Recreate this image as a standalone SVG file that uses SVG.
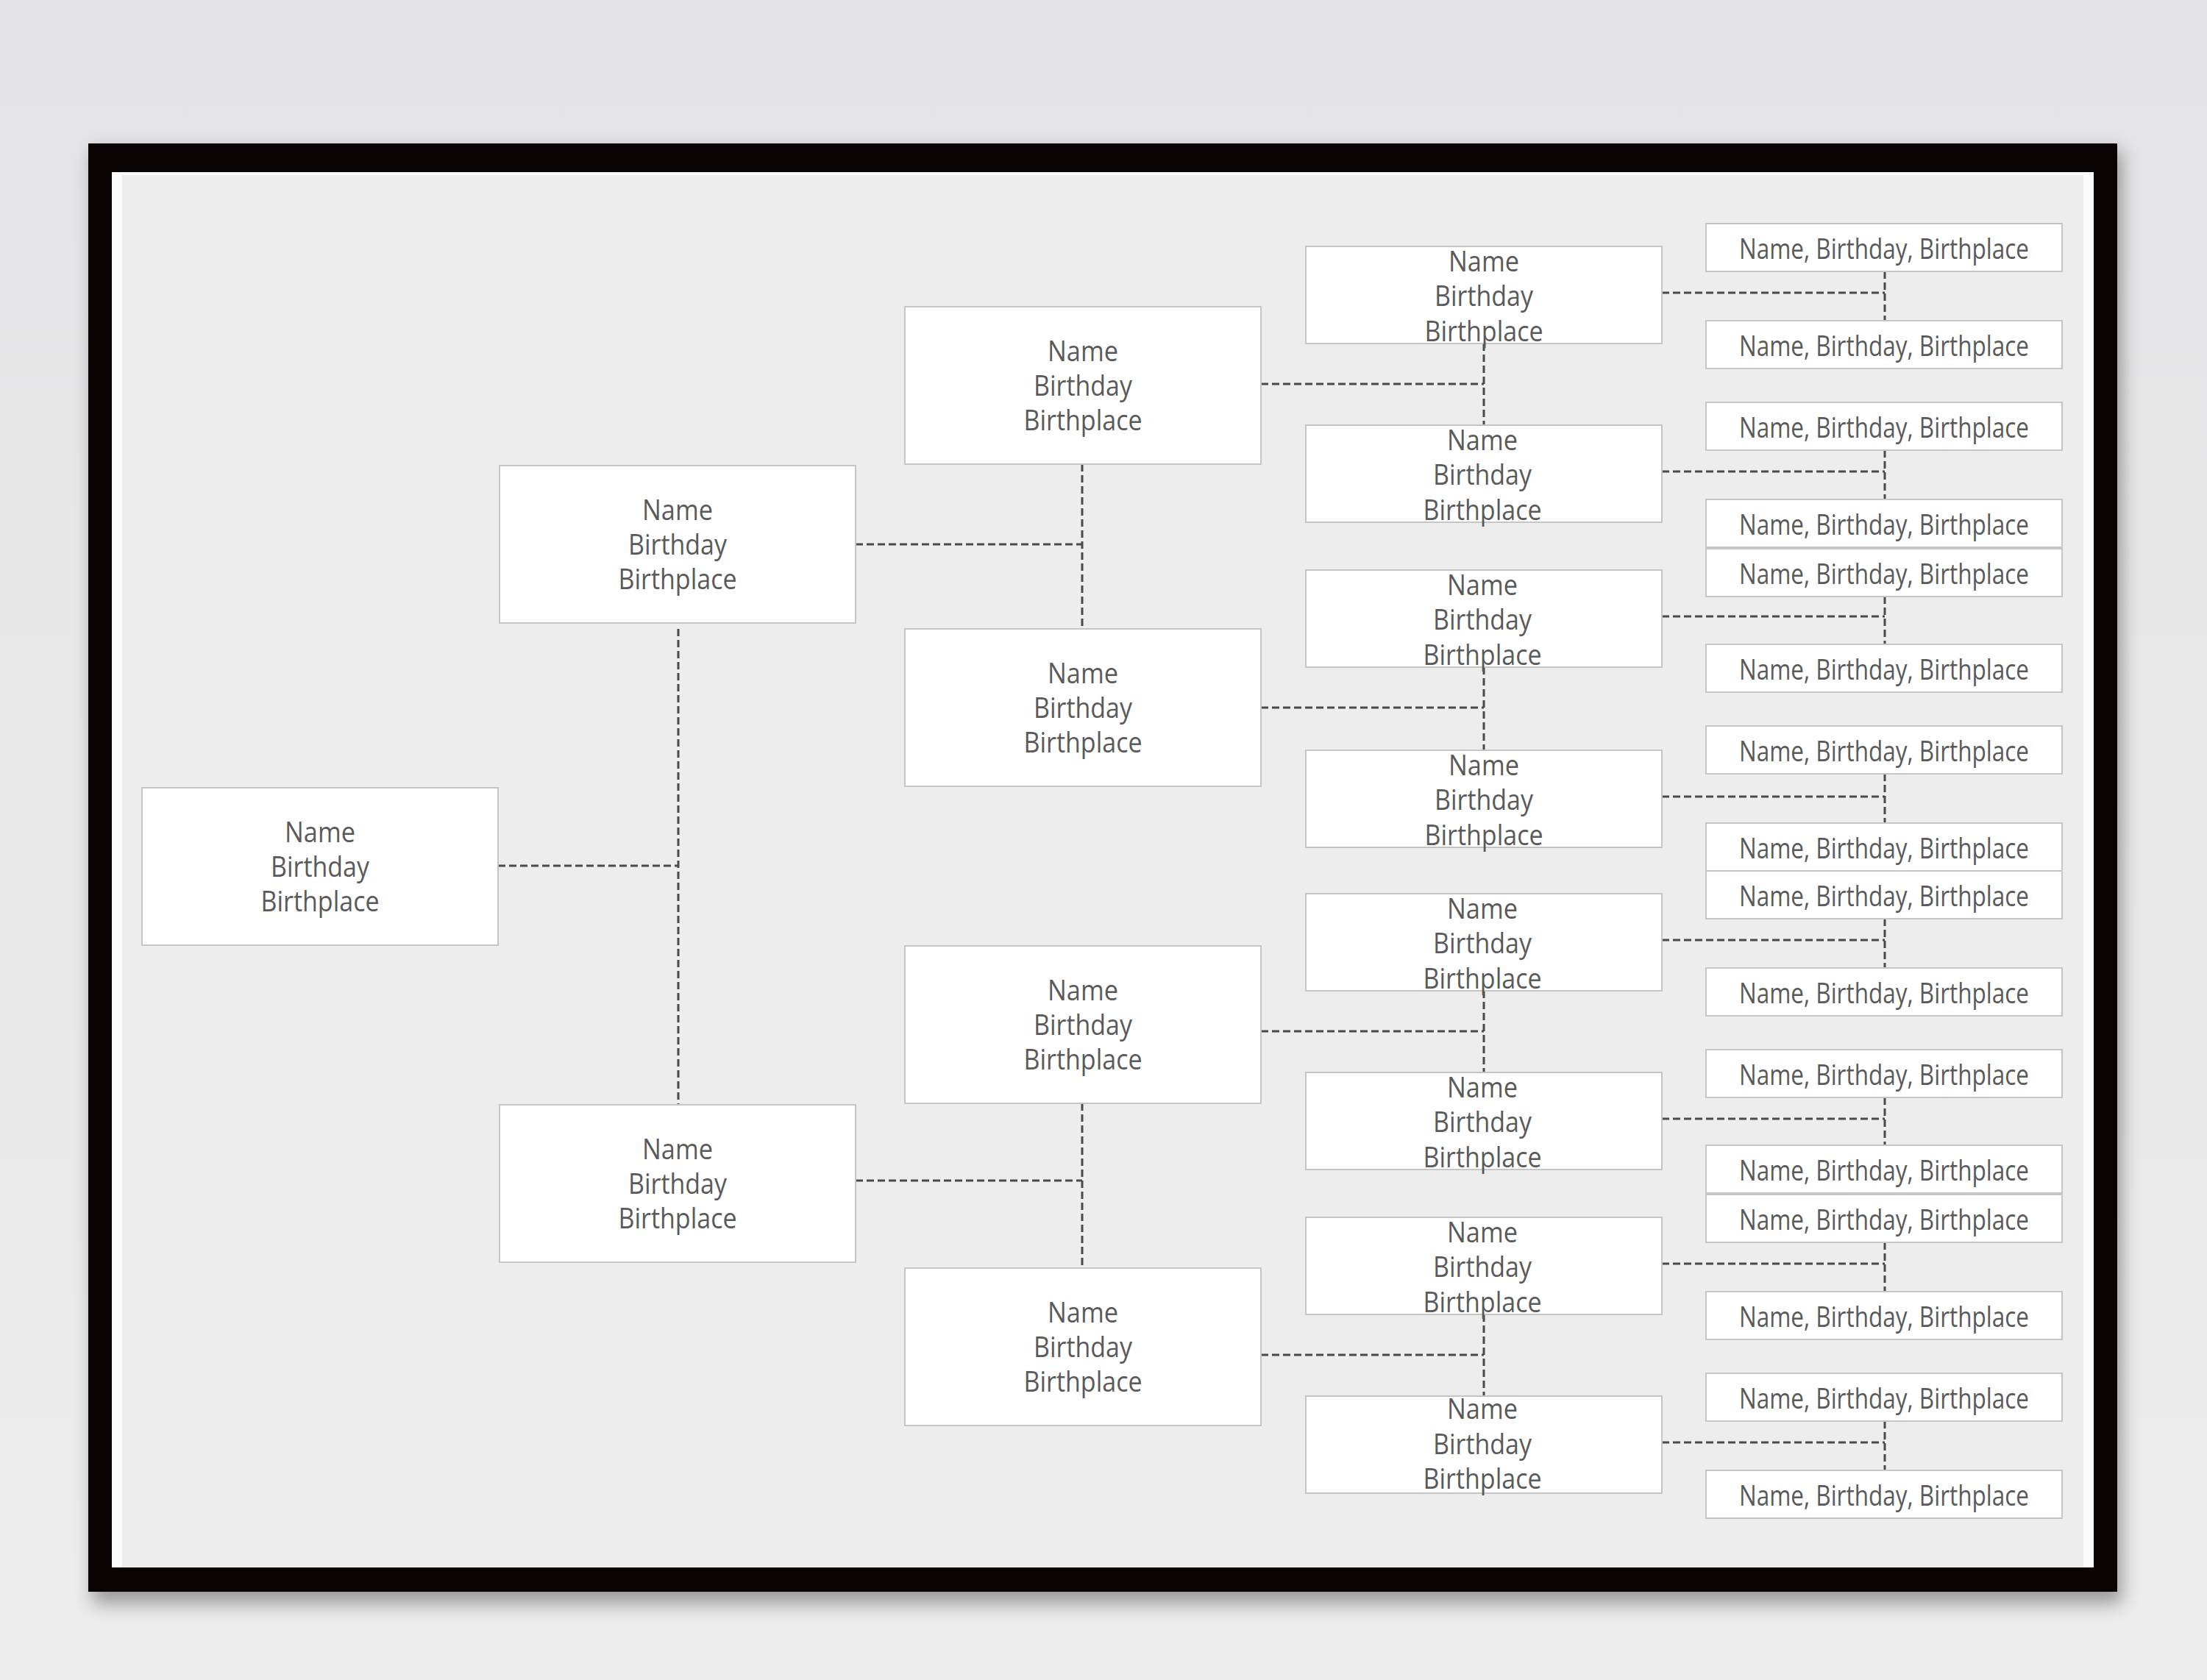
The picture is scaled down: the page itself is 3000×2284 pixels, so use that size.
<svg xmlns="http://www.w3.org/2000/svg" width="3000" height="2284" viewBox="0 0 3000 2284">
<style>
.bx{fill:#fff;stroke:#c6c6c6;stroke-width:2}
.t{font-family:"Open Sans","Noto Sans",sans-serif;font-size:38px;fill:#5a5a5a;text-anchor:middle;dominant-baseline:central}
.c{fill:none;stroke:#4a4a4a;stroke-width:3;stroke-dasharray:10 5}
</style>
<defs>
<linearGradient id="bg" x1="0" y1="0" x2="0" y2="1"><stop offset="0" stop-color="#e4e4e6"/><stop offset="1" stop-color="#ececec"/></linearGradient>
<filter id="sh" x="-5%" y="-5%" width="110%" height="115%"><feGaussianBlur stdDeviation="12"/></filter>
</defs>
<rect width="3000" height="2284" fill="url(#bg)"/>
<rect x="126" y="205" width="2758" height="1975" fill="#000" opacity="0.35" filter="url(#sh)"/>
<rect x="120" y="195" width="2758" height="1969" fill="#0a0303"/>
<rect x="152" y="234" width="2694" height="1897" fill="#fafafa"/>
<rect x="166" y="238" width="2666" height="1893" fill="#ededed"/>
<g id="connectors" class="c">
<path d="M677 1177H922M922 855V1502"/>
<path d="M1163 740H1471M1471 631V855M1163 1605H1471M1471 1500V1724"/>
<path d="M1714 522H2017M2017 467V578M1714 962H2017M2017 907V1020M1714 1402H2017M2017 1347V1458M1714 1842H2017M2017 1787V1898"/>
<path d="M2259 398H2562M2562 369V436M2259 641H2562M2562 612V679M2259 838H2562M2562 811V876M2259 1083H2562M2562 1052V1119M2259 1278H2562M2562 1249V1316M2259 1521H2562M2562 1492V1557M2259 1718H2562M2562 1689V1756M2259 1961H2562M2562 1932V1999"/>
</g>
<g id="n0"><rect class="bx" x="193" y="1071" width="484" height="214"/><text class="t" x="435" y="1130" textLength="96" lengthAdjust="spacingAndGlyphs">Name</text><text class="t" x="435" y="1177" textLength="134" lengthAdjust="spacingAndGlyphs">Birthday</text><text class="t" x="435" y="1224" textLength="161" lengthAdjust="spacingAndGlyphs">Birthplace</text></g>
<g id="n1"><rect class="bx" x="679" y="633" width="484" height="214"/><text class="t" x="921" y="692" textLength="96" lengthAdjust="spacingAndGlyphs">Name</text><text class="t" x="921" y="739" textLength="134" lengthAdjust="spacingAndGlyphs">Birthday</text><text class="t" x="921" y="786" textLength="161" lengthAdjust="spacingAndGlyphs">Birthplace</text></g>
<g id="n2"><rect class="bx" x="679" y="1502" width="484" height="214"/><text class="t" x="921" y="1561" textLength="96" lengthAdjust="spacingAndGlyphs">Name</text><text class="t" x="921" y="1608" textLength="134" lengthAdjust="spacingAndGlyphs">Birthday</text><text class="t" x="921" y="1655" textLength="161" lengthAdjust="spacingAndGlyphs">Birthplace</text></g>
<g id="n3"><rect class="bx" x="1230" y="417" width="484" height="214"/><text class="t" x="1472" y="476" textLength="96" lengthAdjust="spacingAndGlyphs">Name</text><text class="t" x="1472" y="523" textLength="134" lengthAdjust="spacingAndGlyphs">Birthday</text><text class="t" x="1472" y="570" textLength="161" lengthAdjust="spacingAndGlyphs">Birthplace</text></g>
<g id="n4"><rect class="bx" x="1230" y="855" width="484" height="214"/><text class="t" x="1472" y="914" textLength="96" lengthAdjust="spacingAndGlyphs">Name</text><text class="t" x="1472" y="961" textLength="134" lengthAdjust="spacingAndGlyphs">Birthday</text><text class="t" x="1472" y="1008" textLength="161" lengthAdjust="spacingAndGlyphs">Birthplace</text></g>
<g id="n5"><rect class="bx" x="1230" y="1286" width="484" height="214"/><text class="t" x="1472" y="1345" textLength="96" lengthAdjust="spacingAndGlyphs">Name</text><text class="t" x="1472" y="1392" textLength="134" lengthAdjust="spacingAndGlyphs">Birthday</text><text class="t" x="1472" y="1439" textLength="161" lengthAdjust="spacingAndGlyphs">Birthplace</text></g>
<g id="n6"><rect class="bx" x="1230" y="1724" width="484" height="214"/><text class="t" x="1472" y="1783" textLength="96" lengthAdjust="spacingAndGlyphs">Name</text><text class="t" x="1472" y="1830" textLength="134" lengthAdjust="spacingAndGlyphs">Birthday</text><text class="t" x="1472" y="1877" textLength="161" lengthAdjust="spacingAndGlyphs">Birthplace</text></g>
<g id="n7"><rect class="bx" x="1775" y="335" width="484" height="132"/><text class="t" x="2017" y="354" textLength="96" lengthAdjust="spacingAndGlyphs">Name</text><text class="t" x="2017" y="401" textLength="134" lengthAdjust="spacingAndGlyphs">Birthday</text><text class="t" x="2017" y="449" textLength="161" lengthAdjust="spacingAndGlyphs">Birthplace</text></g>
<g id="n8"><rect class="bx" x="1775" y="578" width="484" height="132"/><text class="t" x="2015" y="597" textLength="96" lengthAdjust="spacingAndGlyphs">Name</text><text class="t" x="2015" y="644" textLength="134" lengthAdjust="spacingAndGlyphs">Birthday</text><text class="t" x="2015" y="692" textLength="161" lengthAdjust="spacingAndGlyphs">Birthplace</text></g>
<g id="n9"><rect class="bx" x="1775" y="775" width="484" height="132"/><text class="t" x="2015" y="794" textLength="96" lengthAdjust="spacingAndGlyphs">Name</text><text class="t" x="2015" y="841" textLength="134" lengthAdjust="spacingAndGlyphs">Birthday</text><text class="t" x="2015" y="889" textLength="161" lengthAdjust="spacingAndGlyphs">Birthplace</text></g>
<g id="n10"><rect class="bx" x="1775" y="1020" width="484" height="132"/><text class="t" x="2017" y="1039" textLength="96" lengthAdjust="spacingAndGlyphs">Name</text><text class="t" x="2017" y="1086" textLength="134" lengthAdjust="spacingAndGlyphs">Birthday</text><text class="t" x="2017" y="1134" textLength="161" lengthAdjust="spacingAndGlyphs">Birthplace</text></g>
<g id="n11"><rect class="bx" x="1775" y="1215" width="484" height="132"/><text class="t" x="2015" y="1234" textLength="96" lengthAdjust="spacingAndGlyphs">Name</text><text class="t" x="2015" y="1281" textLength="134" lengthAdjust="spacingAndGlyphs">Birthday</text><text class="t" x="2015" y="1329" textLength="161" lengthAdjust="spacingAndGlyphs">Birthplace</text></g>
<g id="n12"><rect class="bx" x="1775" y="1458" width="484" height="132"/><text class="t" x="2015" y="1477" textLength="96" lengthAdjust="spacingAndGlyphs">Name</text><text class="t" x="2015" y="1524" textLength="134" lengthAdjust="spacingAndGlyphs">Birthday</text><text class="t" x="2015" y="1572" textLength="161" lengthAdjust="spacingAndGlyphs">Birthplace</text></g>
<g id="n13"><rect class="bx" x="1775" y="1655" width="484" height="132"/><text class="t" x="2015" y="1674" textLength="96" lengthAdjust="spacingAndGlyphs">Name</text><text class="t" x="2015" y="1721" textLength="134" lengthAdjust="spacingAndGlyphs">Birthday</text><text class="t" x="2015" y="1769" textLength="161" lengthAdjust="spacingAndGlyphs">Birthplace</text></g>
<g id="n14"><rect class="bx" x="1775" y="1898" width="484" height="132"/><text class="t" x="2015" y="1914" textLength="96" lengthAdjust="spacingAndGlyphs">Name</text><text class="t" x="2015" y="1962" textLength="134" lengthAdjust="spacingAndGlyphs">Birthday</text><text class="t" x="2015" y="2009" textLength="161" lengthAdjust="spacingAndGlyphs">Birthplace</text></g>
<g id="r1"><rect class="bx" x="2319" y="304" width="484" height="65"/><text class="t" x="2561" y="337" textLength="394" lengthAdjust="spacingAndGlyphs">Name, Birthday, Birthplace</text></g>
<g id="r2"><rect class="bx" x="2319" y="436" width="484" height="65"/><text class="t" x="2561" y="469" textLength="394" lengthAdjust="spacingAndGlyphs">Name, Birthday, Birthplace</text></g>
<g id="r3"><rect class="bx" x="2319" y="547" width="484" height="65"/><text class="t" x="2561" y="580" textLength="394" lengthAdjust="spacingAndGlyphs">Name, Birthday, Birthplace</text></g>
<g id="r4"><rect class="bx" x="2319" y="679" width="484" height="65"/><text class="t" x="2561" y="712" textLength="394" lengthAdjust="spacingAndGlyphs">Name, Birthday, Birthplace</text></g>
<g id="r5"><rect class="bx" x="2319" y="746" width="484" height="65"/><text class="t" x="2561" y="779" textLength="394" lengthAdjust="spacingAndGlyphs">Name, Birthday, Birthplace</text></g>
<g id="r6"><rect class="bx" x="2319" y="876" width="484" height="65"/><text class="t" x="2561" y="909" textLength="394" lengthAdjust="spacingAndGlyphs">Name, Birthday, Birthplace</text></g>
<g id="r7"><rect class="bx" x="2319" y="987" width="484" height="65"/><text class="t" x="2561" y="1020" textLength="394" lengthAdjust="spacingAndGlyphs">Name, Birthday, Birthplace</text></g>
<g id="r8"><rect class="bx" x="2319" y="1119" width="484" height="65"/><text class="t" x="2561" y="1152" textLength="394" lengthAdjust="spacingAndGlyphs">Name, Birthday, Birthplace</text></g>
<g id="r9"><rect class="bx" x="2319" y="1184" width="484" height="65"/><text class="t" x="2561" y="1217" textLength="394" lengthAdjust="spacingAndGlyphs">Name, Birthday, Birthplace</text></g>
<g id="r10"><rect class="bx" x="2319" y="1316" width="484" height="65"/><text class="t" x="2561" y="1349" textLength="394" lengthAdjust="spacingAndGlyphs">Name, Birthday, Birthplace</text></g>
<g id="r11"><rect class="bx" x="2319" y="1427" width="484" height="65"/><text class="t" x="2561" y="1460" textLength="394" lengthAdjust="spacingAndGlyphs">Name, Birthday, Birthplace</text></g>
<g id="r12"><rect class="bx" x="2319" y="1557" width="484" height="65"/><text class="t" x="2561" y="1590" textLength="394" lengthAdjust="spacingAndGlyphs">Name, Birthday, Birthplace</text></g>
<g id="r13"><rect class="bx" x="2319" y="1624" width="484" height="65"/><text class="t" x="2561" y="1657" textLength="394" lengthAdjust="spacingAndGlyphs">Name, Birthday, Birthplace</text></g>
<g id="r14"><rect class="bx" x="2319" y="1756" width="484" height="65"/><text class="t" x="2561" y="1789" textLength="394" lengthAdjust="spacingAndGlyphs">Name, Birthday, Birthplace</text></g>
<g id="r15"><rect class="bx" x="2319" y="1867" width="484" height="65"/><text class="t" x="2561" y="1900" textLength="394" lengthAdjust="spacingAndGlyphs">Name, Birthday, Birthplace</text></g>
<g id="r16"><rect class="bx" x="2319" y="1999" width="484" height="65"/><text class="t" x="2561" y="2032" textLength="394" lengthAdjust="spacingAndGlyphs">Name, Birthday, Birthplace</text></g>
</svg>
